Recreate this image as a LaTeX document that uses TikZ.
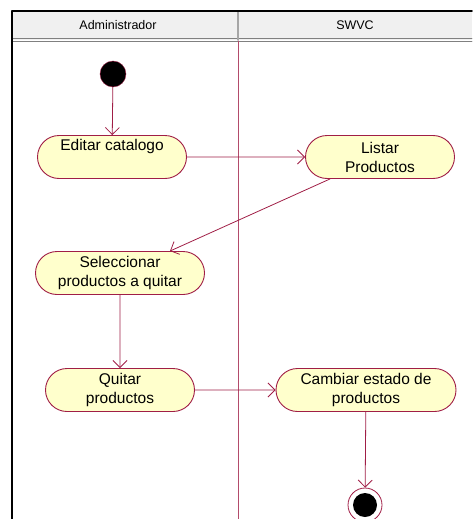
\documentclass[tikz,border=0pt]{standalone}
\usepackage{fontspec}
\setmainfont{Liberation Sans}
\usetikzlibrary{arrows.meta,shapes.misc}
\definecolor{umlline}{RGB}{160,30,70}
\definecolor{umlfill}{RGB}{255,255,204}
\definecolor{headgray}{RGB}{240,240,240}
\tikzset{
  activity/.style={rounded rectangle,draw=umlline,fill=umlfill,line width=0.9pt,
    minimum height=43pt,align=center,font=\fontsize{15.5}{19}\selectfont,inner sep=2pt},
  flow/.style={draw=umlline,line width=0.8pt,-{Straight Barb[length=7pt,width=14pt]}}
}
\begin{document}
\begin{tikzpicture}[line cap=round,line join=round,x=1pt,y=-1pt]
      \useasboundingbox (0,0) rectangle (472,519);
      % swimlanes
      \fill[headgray] (12,11) rectangle (472,40);
      \draw[gray,line width=0.8pt] (12,38.5) -- (472,38.5);
      \draw[gray,line width=0.8pt] (12,41) -- (472,41);
      \draw[gray!70,line width=1.5pt] (238,11) -- (238,40);
      \draw[black,line width=1.5pt] (12,519) -- (12,11) -- (472,11);
      \draw[umlline!80,line width=0.9pt] (238,41) -- (238,519);
      \node[font=\fontsize{12.5}{14}\selectfont] (laneA) at (118,25) {Administrador};
      \node[font=\fontsize{12.5}{14}\selectfont] (laneB) at (355,25) {SWVC};
      % states
      \node[circle,fill=black,draw=umlline,inner sep=0pt,minimum size=26pt] (start) at (113,74) {};
      \node[activity,minimum width=153pt] (editar) at (112,157) {Editar catalogo\\ \strut};
      \node[activity,minimum width=153pt] (listar) at (380,157) {Listar\\Productos};
      \node[activity,minimum width=173pt] (selec) at (120,273) {Seleccionar\\productos a quitar};
      \node[activity,minimum width=153pt] (quitar) at (120,390) {Quitar\\productos};
      \node[activity,minimum width=184pt] (cambiar) at (366,390) {Cambiar estado de\\productos};
      \node[circle,draw=umlline,fill=white,line width=0.8pt,inner sep=0pt,minimum size=34pt] (fin) at (365,505) {};
      \node[circle,fill=black,inner sep=0pt,minimum size=24pt] (finin) at (fin) {};
      % transitions
      \draw[flow] (start) -- (editar);
      \draw[flow] (editar) -- (listar);
      \draw[flow] ([xshift=-50pt]listar.south) -- ([xshift=50pt]selec.north);
      \draw[flow] (selec) -- (quitar);
      \draw[flow] (quitar) -- (cambiar);
      \draw[flow] (cambiar) -- (fin);
    \end{tikzpicture}
\end{document}
